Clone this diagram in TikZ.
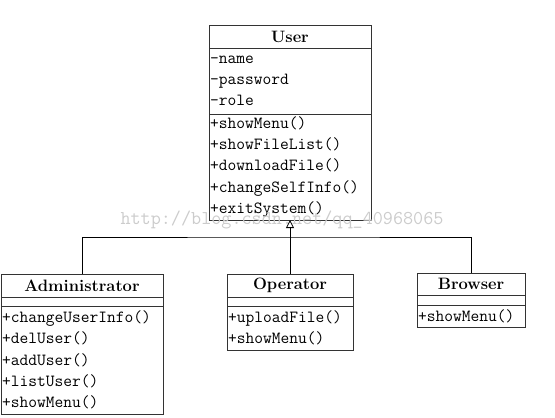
\documentclass[tikz,border=0pt]{standalone}
\usetikzlibrary{arrows.meta,positioning}
\definecolor{edgec}{HTML}{333333}
\definecolor{wmarkc}{HTML}{CCCCCC}

\begin{document}
\begin{tikzpicture}[
  x=1pt, y=-1pt,
  >={Triangle[open, length=8pt, width=8pt]},
  box/.style={rectangle, draw=edgec, line width=0.8pt, inner sep=1pt, outer sep=0pt},
  head/.style={box, anchor=north, minimum height=23pt,
               font=\fontsize{16.5}{19}\selectfont\bfseries},
  part/.style={box, align=left, below=0pt of #1,
               font=\ttfamily\fontsize{17}{21.2}\selectfont},
  empty/.style={box, below=0pt of #1, minimum height=9pt},
  flow/.style={draw=black, line width=0.8pt},
  wm/.style={text=wmarkc, font=\ttfamily\fontsize{19.6}{22}\selectfont},
]
\useasboundingbox (0,0) rectangle (555,418);

% ---- base class ----
\node[head, minimum width=162pt] (user) at (290,25) {User};
\node[part=user, text width=160pt, minimum height=66pt] (userattr)
  {-name\\-password\\-role};
\node[part=userattr, text width=160pt, minimum height=106pt] (userops)
  {+showMenu()\\+showFileList()\\+downloadFile()\\+changeSelfInfo()\\+exitSystem()};

% ---- subclasses ----
\node[head, minimum width=162pt] (admin) at (82,274) {Administrator};
\node[empty=admin, minimum width=162pt] (adminattr) {};
\node[part=adminattr, text width=160pt, minimum height=108pt] (adminops)
  {+changeUserInfo()\\+delUser()\\+addUser()\\+listUser()\\+showMenu()};

\node[head, minimum width=126pt] (oper) at (290,274) {Operator};
\node[empty=oper, minimum width=126pt] (operattr) {};
\node[part=operattr, text width=124pt, minimum height=44pt] (operops)
  {+uploadFile()\\+showMenu()};

\node[head, minimum width=108pt, minimum height=22pt] (browser) at (471,273) {Browser};
\node[empty=browser, minimum width=108pt, minimum height=10pt] (browserattr) {};
\node[part=browserattr, text width=106pt, minimum height=22pt] (browserops)
  {+showMenu()};

% ---- generalization ----
\coordinate (split) at (290,237);
\draw[flow, ->] (oper.north) -- (userops.south);
\draw[flow] (admin.north) |- (split) -| (browser.north);

% ---- watermark ----
\node[wm] (wmark) at (282,220) {http://blog.csdn.net/qq\_40968065};
\end{tikzpicture}
\end{document}
